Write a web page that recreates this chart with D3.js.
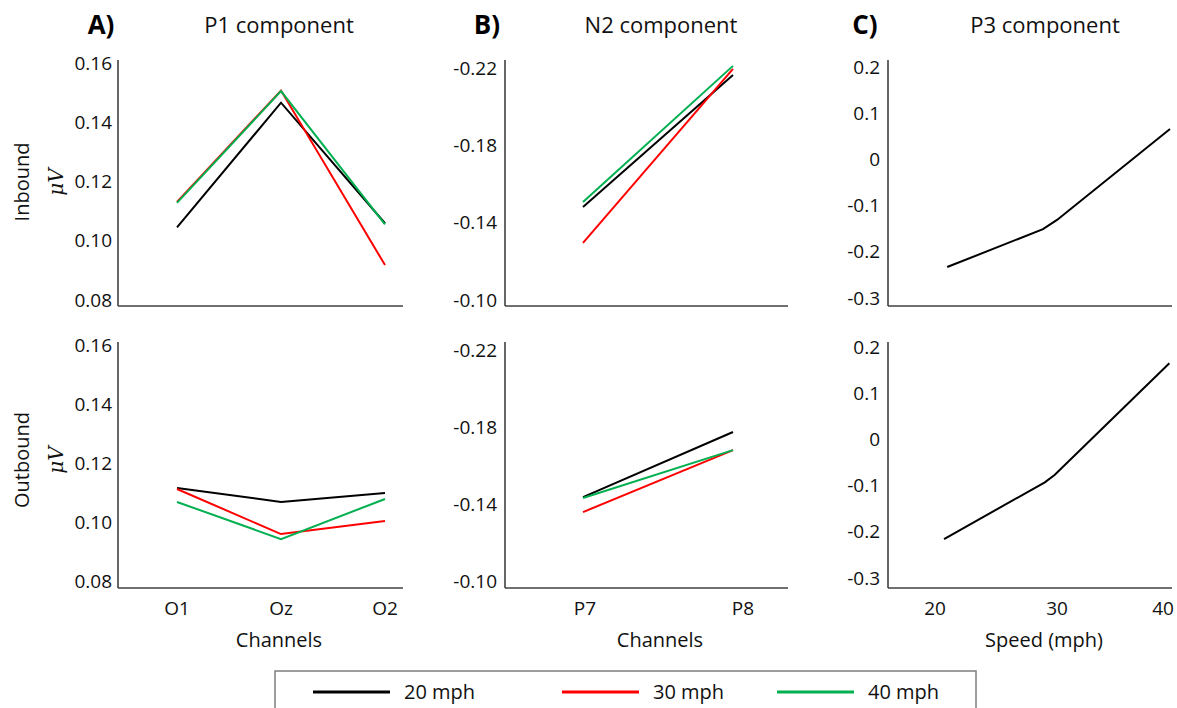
<!DOCTYPE html>
<html>
<head>
<meta charset="utf-8">
<script src="https://cdn.jsdelivr.net/npm/d3@7"></script>
<style>
  body { margin: 0; background: #fff; }
  svg { display: block; font-family: "Open Sans", sans-serif; }
</style>
</head>
<body>
<svg id="fig" width="1177" height="708"></svg>
<script>
// series (one per speed)
const speeds = ["20 mph", "30 mph", "40 mph"];
const colors = ["#000000", "#ff0000", "#00b050"];

// A) P1 component
const p1Channels = ["O1", "Oz", "O2"];
const p1Inbound = [
  [0.1045, 0.1466, 0.1059],
  [0.1131, 0.1507, 0.0918],
  [0.1128, 0.1505, 0.1055]
];
const p1Outbound = [
  [0.1115, 0.1068, 0.1098],
  [0.1112, 0.0959, 0.1003],
  [0.1068, 0.0942, 0.1078]
];
const p1Ticks = [0.08, 0.10, 0.12, 0.14, 0.16];

// B) N2 component
const n2Channels = ["P7", "P8"];
const n2Inbound = [
  [-0.1481, -0.2164],
  [-0.1295, -0.2195],
  [-0.1507, -0.2211]
];
const n2Outbound = [
  [-0.1436, -0.1774],
  [-0.1358, -0.1680],
  [-0.1431, -0.1680]
];
const n2Ticks = [-0.10, -0.14, -0.18, -0.22];

// C) P3 component (speed on x)
const p3SpeedTicks = [20, 30, 40];
const p3InboundX = [21.0, 28.85, 30.0, 40.66];
const p3InboundY = [-0.233, -0.151, -0.131, 0.066];
const p3OutboundX = [20.74, 29.0, 29.8, 40.6];
const p3OutboundY = [-0.2156, -0.093, -0.0771, 0.1647];
const p3Ticks = [0.2, 0.1, 0, -0.1, -0.2, -0.3];

const svg = d3.select("#fig");
const axisColor = "#404040";

// rows: top (inbound) and bottom (outbound)
const rows = [
  { axTop: 60, axBot: 306 },
  { axTop: 342, axBot: 588 }
];

function drawAxes(g, x0, x1, row, y, ticks, fmt, pad) {
  // y axis labels only, lines drawn separately
  g.append("g")
    .attr("transform", "translate(" + x0 + ",0)")
    .call(d3.axisLeft(y).tickValues(ticks).tickSize(0).tickPadding(pad).tickFormat(fmt))
    .call(a => a.select(".domain").remove())
    .call(a => a.selectAll("text")
      .style("font-family", "Open Sans").style("font-size", "19px").attr("fill", "#111"));

  g.append("line")
    .attr("x1", x0).attr("x2", x0)
    .attr("y1", row.axTop).attr("y2", row.axBot)
    .attr("stroke", axisColor).attr("stroke-width", 1.6);
  g.append("line")
    .attr("x1", x0).attr("x2", x1)
    .attr("y1", row.axBot).attr("y2", row.axBot)
    .attr("stroke", axisColor).attr("stroke-width", 1.6);
}

function drawLines(g, x, y, cats, series) {
  const line = d3.line().x((d, i) => x(cats[i])).y(d => y(d));
  series.forEach((s, k) => {
    g.append("path")
      .datum(s)
      .attr("d", line)
      .attr("fill", "none")
      .attr("stroke", colors[k])
      .attr("stroke-width", 2);
  });
}

function xLabels(g, x, cats, ty) {
  g.selectAll(null).data(cats).enter().append("text")
    .attr("x", d => x(d))
    .attr("y", ty)
    .attr("text-anchor", "middle")
    .style("font-size", "19px")
    .attr("fill", "#111")
    .text(d => d);
}

// ---------- Panel A ----------
const gA = svg.append("g");
const xA = d3.scalePoint().domain(p1Channels).range([177, 385]);
const yA = [
  d3.scaleLinear().domain([0.08, 0.16]).range([300, 63]),
  d3.scaleLinear().domain([0.08, 0.16]).range([581, 345])
];
const fmtA = d => d.toFixed(2);
drawAxes(gA, 118, 403, rows[0], yA[0], p1Ticks, fmtA, 6);
drawAxes(gA, 118, 403, rows[1], yA[1], p1Ticks, fmtA, 6);
drawLines(gA, xA, yA[0], p1Channels, p1Inbound);
drawLines(gA, xA, yA[1], p1Channels, p1Outbound);
xLabels(gA, xA, p1Channels, 615);

// ---------- Panel B ----------
const gB = svg.append("g");
const xB = d3.scalePoint().domain(n2Channels).range([583, 733]);
const yB = [
  d3.scaleLinear().domain([-0.10, -0.22]).range([300, 68]),
  d3.scaleLinear().domain([-0.10, -0.22]).range([581, 350])
];
const fmtB = d => d.toFixed(2);
drawAxes(gB, 505, 788, rows[0], yB[0], n2Ticks, fmtB, 8);
drawAxes(gB, 505, 788, rows[1], yB[1], n2Ticks, fmtB, 8);
drawLines(gB, xB, yB[0], n2Channels, n2Inbound);
drawLines(gB, xB, yB[1], n2Channels, n2Outbound);
const xBl = d3.scalePoint().domain(n2Channels).range([585, 743]);
xLabels(gB, xBl, n2Channels, 615);

// ---------- Panel C ----------
const gC = svg.append("g");
const xC = d3.scaleLinear().domain([20, 30, 40]).range([935, 1057, 1163]);
const yC = [
  d3.scaleLinear().domain([-0.3, 0.2]).range([298, 67]),
  d3.scaleLinear().domain([-0.3, 0.2]).range([578, 347])
];
const fmtC = d => d === 0 ? "0" : d.toFixed(1);
drawAxes(gC, 888, 1172, rows[0], yC[0], p3Ticks, fmtC, 8);
drawAxes(gC, 888, 1172, rows[1], yC[1], p3Ticks, fmtC, 8);
const p3Line = (xs, y) => d3.line().x((d, i) => xC(xs[i])).y(d => y(d));
gC.append("path").datum(p3InboundY).attr("d", p3Line(p3InboundX, yC[0]))
  .attr("fill", "none").attr("stroke", colors[0]).attr("stroke-width", 2);
gC.append("path").datum(p3OutboundY).attr("d", p3Line(p3OutboundX, yC[1]))
  .attr("fill", "none").attr("stroke", colors[0]).attr("stroke-width", 2);
xLabels(gC, xC, p3SpeedTicks, 615);

// ---------- titles ----------
const titles = [
  { tag: "A)", tagX: 101, name: "P1 component", nameX: 279 },
  { tag: "B)", tagX: 487, name: "N2 component", nameX: 661 },
  { tag: "C)", tagX: 865, name: "P3 component", nameX: 1045 }
];
titles.forEach(t => {
  svg.append("text").attr("x", t.tagX).attr("y", 34).attr("text-anchor", "middle")
    .style("font-size", "26px").style("font-weight", "bold").attr("fill", "#000").text(t.tag);
  svg.append("text").attr("x", t.nameX).attr("y", 33).attr("text-anchor", "middle")
    .style("font-size", "22px").attr("fill", "#111").text(t.name);
});

// x-axis titles
[["Channels", 279], ["Channels", 660], ["Speed (mph)", 1044]].forEach(([s, x]) => {
  svg.append("text").attr("x", x).attr("y", 647).attr("text-anchor", "middle")
    .style("font-size", "20px").attr("fill", "#111").text(s);
});

// row titles
[["Inbound", 182], ["Outbound", 460]].forEach(([s, cy]) => {
  svg.append("text")
    .attr("transform", "translate(29," + cy + ") rotate(-90)")
    .attr("text-anchor", "middle")
    .style("font-size", "20px").attr("fill", "#111").text(s);
  svg.append("text")
    .attr("transform", "translate(63," + cy + ") rotate(-90)")
    .attr("text-anchor", "middle")
    .style("font-family", "DejaVu Serif").style("font-style", "italic")
    .style("font-size", "20px").attr("fill", "#111").text("μV");
});

// ---------- legend ----------
const lg = svg.append("g");
lg.append("rect").attr("x", 275).attr("y", 671).attr("width", 701).attr("height", 60)
  .attr("fill", "none").attr("stroke", "#7f7f7f").attr("stroke-width", 1.5);
const legX = [313, 562, 777];
speeds.forEach((s, k) => {
  lg.append("line").attr("x1", legX[k]).attr("x2", legX[k] + 77)
    .attr("y1", 692).attr("y2", 692)
    .attr("stroke", colors[k]).attr("stroke-width", 3);
  lg.append("text").attr("x", legX[k] + 91).attr("y", 699)
    .style("font-size", "20px").attr("fill", "#111").text(s);
});
</script>
</body>
</html>
